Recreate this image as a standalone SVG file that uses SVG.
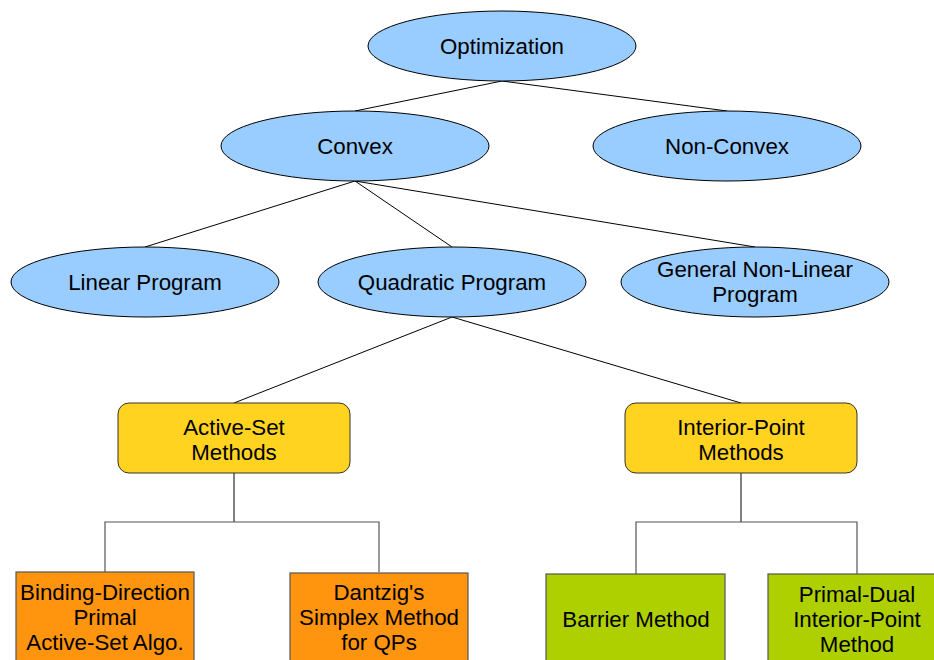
<svg xmlns="http://www.w3.org/2000/svg" width="934" height="660" viewBox="0 0 934 660">
<style>
text{font-family:"Liberation Sans",Arial,sans-serif;font-size:22.3px;fill:#000;text-anchor:middle}
.ell{fill:#99ccff;stroke:#000;stroke-width:1}
.yel{fill:#ffd320;stroke:#333;stroke-width:1}
.org{fill:#ff950e;stroke:#555;stroke-width:1.2}
.grn{fill:#aecf00;stroke:#555;stroke-width:1.2}
.c{stroke:#000;stroke-width:1;fill:none}
.g{stroke:#555;stroke-width:1.2;fill:none}
</style>
<rect width="934" height="660" fill="#fff"/>
<g id="connectors">
<line class="c" x1="502" y1="81" x2="355" y2="111"/>
<line class="c" x1="502" y1="81" x2="727" y2="111"/>
<line class="c" x1="355" y1="181" x2="145" y2="247"/>
<line class="c" x1="355" y1="181" x2="452" y2="247"/>
<line class="c" x1="355" y1="181" x2="755" y2="247"/>
<line class="c" x1="452" y1="317" x2="234" y2="403"/>
<line class="c" x1="452" y1="317" x2="741" y2="403"/>
<polyline class="c" points="234,473 234,522"/>
<polyline class="g" points="105,572 105,522 379,522 379,572"/>
<polyline class="c" points="741,473 741,522"/>
<polyline class="g" points="636,574 636,522 857,522 857,574"/>
</g>
<g id="optimization"><ellipse class="ell" cx="502" cy="46" rx="134" ry="35"/><text x="502" y="54">Optimization</text></g>
<g id="convex"><ellipse class="ell" cx="355" cy="146" rx="134" ry="35"/><text x="355" y="154">Convex</text></g>
<g id="nonconvex"><ellipse class="ell" cx="727" cy="146" rx="134" ry="35"/><text x="727" y="154">Non-Convex</text></g>
<g id="linear"><ellipse class="ell" cx="145" cy="282" rx="134" ry="35"/><text x="145" y="290">Linear Program</text></g>
<g id="quadratic"><ellipse class="ell" cx="452" cy="282" rx="134" ry="35"/><text x="452" y="290">Quadratic Program</text></g>
<g id="general"><ellipse class="ell" cx="755" cy="282" rx="134" ry="35"/><text x="755" y="277">General Non-Linear</text><text x="755" y="302">Program</text></g>
<g id="activeset"><rect class="yel" x="118" y="403" width="232" height="70" rx="11"/><text x="234" y="435">Active-Set</text><text x="234" y="460">Methods</text></g>
<g id="interiorpoint"><rect class="yel" x="625" y="403" width="232" height="70" rx="11"/><text x="741" y="435">Interior-Point</text><text x="741" y="460">Methods</text></g>
<g id="binding"><rect class="org" x="16" y="572" width="178" height="100"/><text x="105" y="600">Binding-Direction</text><text x="105" y="625">Primal</text><text x="105" y="650">Active-Set Algo.</text></g>
<g id="dantzig"><rect class="org" x="290" y="573" width="178" height="100"/><text x="379" y="600">Dantzig's</text><text x="379" y="625">Simplex Method</text><text x="379" y="650">for QPs</text></g>
<g id="barrier"><rect class="grn" x="546" y="574" width="179" height="100"/><text x="636" y="627">Barrier Method</text></g>
<g id="primaldual"><rect class="grn" x="768" y="574" width="180" height="100"/><text x="857" y="602">Primal-Dual</text><text x="857" y="627">Interior-Point</text><text x="857" y="652">Method</text></g>
</svg>
